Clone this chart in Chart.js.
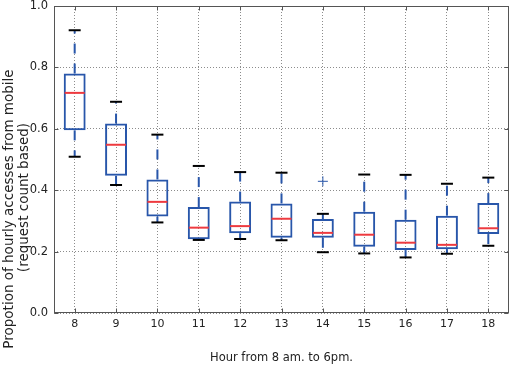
<!DOCTYPE html>
<html>
<head>
<meta charset="utf-8">
<script src="https://cdn.jsdelivr.net/npm/chart.js@4.4.0/dist/chart.umd.min.js"></script>
<style>
html, body { margin: 0; padding: 0; background: #fff; }
#wrap { width: 510px; height: 369px; }
</style>
</head>
<body>
<div id="wrap"><canvas id="hourlyBox" width="510" height="369"></canvas></div>
<script>
// hours of the day (categories)
var hours = ['8', '9', '10', '11', '12', '13', '14', '15', '16', '17', '18'];

// box plot values
var whiskerLow  = [0.509, 0.417, 0.295, 0.238, 0.241, 0.237, 0.198, 0.194, 0.181, 0.193, 0.219];
var boxLow      = [0.595, 0.447, 0.314, 0.240, 0.260, 0.245, 0.245, 0.216, 0.205, 0.208, 0.257];
var medians     = [0.717, 0.548, 0.362, 0.278, 0.283, 0.307, 0.261, 0.255, 0.229, 0.222, 0.276];
var boxHigh     = [0.780, 0.617, 0.435, 0.345, 0.363, 0.357, 0.306, 0.330, 0.304, 0.317, 0.358];
var whiskerHigh = [0.921, 0.688, 0.581, 0.479, 0.459, 0.457, 0.323, 0.451, 0.450, 0.421, 0.441];
var outliers    = [null, null, null, null, null, null, 0.429, null, null, null, null];

var yTicks = [0.0, 0.2, 0.4, 0.6, 0.8, 1.0];
var xTitle = 'Hour from 8 am. to 6pm.';
var yTitle = ['Propotion of hourly accesses from mobile', '(request count based)'];

var boxBlue = '#2856aa';
var medianRed = '#ee3a3f';
var textColor = '#222';

// dashed whiskers, drawn under the boxes
var whiskerPlugin = {
    id: 'whiskers',
    beforeDatasetsDraw: function (chart) {
        var ctx = chart.ctx, xs = chart.scales.x, ys = chart.scales.y;
        ctx.save();
        ctx.strokeStyle = boxBlue;
        ctx.lineWidth = 2;
        ctx.setLineDash([10, 10]);
        hours.forEach(function (h, i) {
            var px = xs.getPixelForValue(i);
            ctx.beginPath();
            ctx.moveTo(px, ys.getPixelForValue(boxHigh[i]));
            ctx.lineTo(px, ys.getPixelForValue(whiskerHigh[i]));
            ctx.stroke();
            ctx.beginPath();
            ctx.moveTo(px, ys.getPixelForValue(boxLow[i]));
            ctx.lineTo(px, ys.getPixelForValue(whiskerLow[i]));
            ctx.stroke();
        });
        ctx.restore();
    }
};

// frame around the plot, inward tick marks and the two-line y title
var framePlugin = {
    id: 'frame',
    afterDatasetsDraw: function (chart) {
        var ctx = chart.ctx, a = chart.chartArea, xs = chart.scales.x, ys = chart.scales.y;
        var l = Math.round(a.left) + 0.5, r = Math.round(a.right) - 0.5;
        var t = Math.round(a.top) + 0.5, b = Math.round(a.bottom) - 0.5;
        ctx.save();
        ctx.strokeStyle = '#555';
        ctx.lineWidth = 1;
        ctx.strokeRect(l, t, r - l, b - t);
        ctx.beginPath();
        yTicks.forEach(function (v) {
            var py = Math.round(ys.getPixelForValue(v)) + 0.5;
            ctx.moveTo(l, py); ctx.lineTo(l + 4, py);
            ctx.moveTo(r, py); ctx.lineTo(r - 4, py);
        });
        hours.forEach(function (h, i) {
            var px = Math.round(xs.getPixelForValue(i)) + 0.5;
            ctx.moveTo(px, b); ctx.lineTo(px, b - 4);
            ctx.moveTo(px, t); ctx.lineTo(px, t + 4);
        });
        ctx.stroke();

        ctx.fillStyle = textColor;
        ctx.font = '13.5px "DejaVu Sans"';
        ctx.textAlign = 'center';
        ctx.textBaseline = 'middle';
        ctx.translate(9, 209);
        ctx.rotate(-Math.PI / 2);
        ctx.fillText(yTitle[0], 0, 0);
        ctx.fillText(yTitle[1], 11.5, 15);
        ctx.restore();
    }
};

var ctx = document.getElementById('hourlyBox').getContext('2d');
var hourlyChart = new Chart(ctx, {
    type: 'bar',
    data: {
        labels: hours,
        datasets: [
            {
                type: 'line',
                data: outliers,
                showLine: false,
                pointStyle: 'cross',
                pointRadius: 5,
                pointBorderWidth: 1,
                borderColor: boxBlue,
                pointBorderColor: boxBlue
            },
            {
                type: 'line',
                data: medians,
                showLine: false,
                pointStyle: 'line',
                pointRadius: 10,
                pointBorderWidth: 2,
                borderColor: medianRed,
                pointBorderColor: medianRed
            },
            {
                type: 'line',
                data: whiskerHigh,
                showLine: false,
                pointStyle: 'line',
                pointRadius: 6,
                pointBorderWidth: 2,
                borderColor: '#000',
                pointBorderColor: '#000'
            },
            {
                type: 'line',
                data: whiskerLow,
                showLine: false,
                pointStyle: 'line',
                pointRadius: 6,
                pointBorderWidth: 2,
                borderColor: '#000',
                pointBorderColor: '#000'
            },
            {
                type: 'bar',
                data: boxLow.map(function (v, i) { return [v, boxHigh[i]]; }),
                backgroundColor: 'rgba(0,0,0,0)',
                borderColor: boxBlue,
                borderWidth: 2,
                borderSkipped: false,
                barPercentage: 0.53,
                categoryPercentage: 1.0
            }
        ]
    },
    options: {
        responsive: false,
        animation: false,
        layout: { autoPadding: false, padding: { top: 6, right: 1, left: 0, bottom: 0 } },
        plugins: {
            legend: { display: false },
            tooltip: { enabled: false }
        },
        scales: {
            x: {
                offset: true,
                grid: { offset: false, color: '#8c8c8c', lineWidth: 1, drawTicks: false },
                border: { display: false, dash: [1, 2] },
                ticks: { color: textColor, font: { family: 'DejaVu Sans', size: 11 }, padding: 5 },
                title: {
                    display: true,
                    text: xTitle,
                    color: textColor,
                    font: { family: 'DejaVu Sans', size: 11.5 },
                    padding: { top: 0, bottom: 4 }
                },
                afterFit: function (scale) {
                    scale.height = 56;
                    scale.paddingLeft = 0;
                    scale.paddingRight = 0;
                }
            },
            y: {
                min: 0,
                max: 1,
                grid: { color: '#8c8c8c', lineWidth: 1, drawTicks: false },
                border: { display: false, dash: [1, 2] },
                ticks: {
                    color: textColor,
                    font: { family: 'DejaVu Sans', size: 11.5 },
                    padding: 6,
                    callback: function (v) { return v.toFixed(1); }
                },
                afterBuildTicks: function (scale) {
                    scale.ticks = yTicks.map(function (v) { return { value: v }; });
                },
                afterFit: function (scale) {
                    scale.width = 54;
                    scale.paddingTop = 0;
                    scale.paddingBottom = 0;
                }
            }
        }
    },
    plugins: [whiskerPlugin, framePlugin]
});
</script>
</body>
</html>
